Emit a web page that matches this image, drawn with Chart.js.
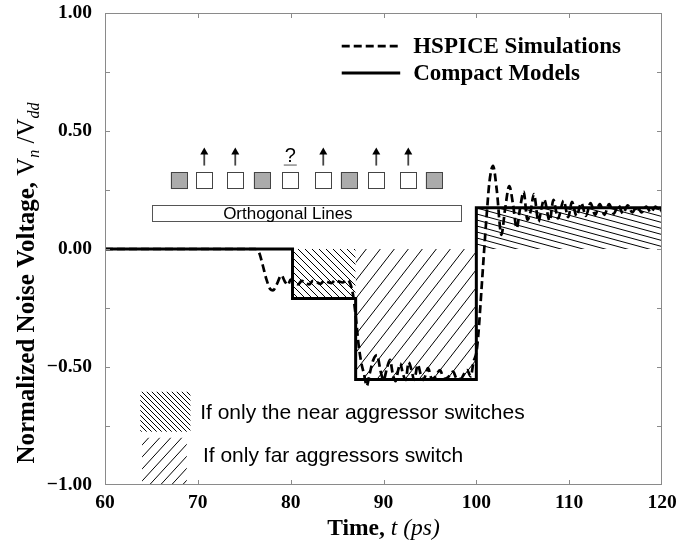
<!DOCTYPE html>
<html>
<head>
<meta charset="utf-8">
<script src="https://cdn.jsdelivr.net/npm/chart.js@4.4.0/dist/chart.umd.min.js"></script>
<style>
  html, body { margin: 0; padding: 0; background: #fff; }
  #wrap { width: 676px; height: 541px; }
</style>
</head>
<body>
<div id="wrap"><canvas id="noise-chart" width="676" height="541"></canvas></div>
<script>
// HSPICE waveform, time in ps, noise as Vn/Vdd
const hspiceTime = [
  60, 76.2, 76.6, 77.0, 77.4, 77.8, 78.1, 78.5, 79.0, 79.4, 79.7, 80.0, 80.4, 80.8, 81.2, 81.6,
  82.0, 82.4, 82.8, 83.2, 83.6, 84.0, 84.4, 84.8, 85.2, 85.6, 86.0, 86.4, 86.7, 87.0, 87.3, 87.6,
  87.9, 88.2, 88.5, 88.9, 89.3, 89.7, 90.0, 90.4, 90.7, 91.0, 91.3, 91.6, 91.8, 92.1, 92.4, 92.7,
  93.0, 93.3, 93.7, 94.0, 94.3, 94.8, 95.2, 95.5, 96.1, 96.5, 96.9, 97.5, 97.9, 98.3, 99.0, 99.4,
  99.7, 100.0, 100.2, 100.6, 100.85, 101.1, 101.4, 101.8, 102.2, 102.7, 103.1, 103.55, 103.95, 104.35,
  104.7, 105.1, 105.5, 105.85, 106.2, 106.7, 107.0, 107.3, 107.9, 108.3, 108.8, 109.4, 109.9, 110.3,
  110.8, 111.3, 111.8, 112.3, 112.8, 113.3, 113.8, 114.3, 114.8, 115.3, 115.8, 116.3, 116.8, 117.3,
  117.8, 118.3, 118.8, 119.3, 119.8, 120
];
const hspiceNoise = [
  0, 0, -0.015, -0.07, -0.13, -0.17, -0.175, -0.15, -0.112, -0.14, -0.152, -0.13, -0.14, -0.15, -0.135, -0.145,
  -0.15, -0.135, -0.14, -0.148, -0.135, -0.14, -0.145, -0.132, -0.138, -0.142, -0.132, -0.145, -0.19, -0.28, -0.40, -0.48,
  -0.53, -0.58, -0.53, -0.47, -0.45, -0.52, -0.555, -0.50, -0.47, -0.53, -0.56, -0.51, -0.485, -0.53, -0.555, -0.48,
  -0.51, -0.555, -0.49, -0.53, -0.555, -0.505, -0.55, -0.545, -0.513, -0.55, -0.545, -0.52, -0.55, -0.55, -0.513, -0.54,
  -0.477, -0.44, -0.37, -0.145, 0.0, 0.137, 0.28, 0.352, 0.25, 0.06, 0.17, 0.267, 0.19, 0.088,
  0.17, 0.243, 0.123, 0.16, 0.233, 0.116, 0.17, 0.21, 0.12, 0.208, 0.13, 0.205, 0.135, 0.2,
  0.14, 0.195, 0.14, 0.195, 0.145, 0.19, 0.145, 0.19, 0.15, 0.185, 0.15, 0.185, 0.155, 0.18,
  0.155, 0.18, 0.155, 0.18, 0.16, 0.17
];

// compact model, piecewise constant
const modelTime = [60, 80.2, 80.2, 87.0, 87.0, 100.0, 100.0, 120];
const modelNoise = [0, 0, -0.21, -0.21, -0.553, -0.553, 0.175, 0.175];

// hatched areas between zero and the model level
const nearOnlyTime = [80.2, 87.0];
const nearOnlyLevel = -0.21;
const farOnlyTime = [87.0, 100.0];
const farOnlyLevel = -0.553;
const overshootTime = [100.0, 120];
const overshootLevel = 0.175;

const xTicks = [60, 70, 80, 90, 100, 110, 120];
const yTicks = [-1, -0.5, 0, 0.5, 1];
const yMinorTicks = [-0.75, -0.25, 0.25, 0.75];

const seriesNames = ['HSPICE Simulations', 'Compact Models'];
const hatchNames = ['If only the near aggressor switches', 'If only far aggressors switch'];

// wire cross-section: shield (grey) or signal, and mark above it
const wireShield = [true, false, false, true, false, false, true, false, false, true];
const wireMark = ['', 'up', 'up', '', '?', 'up', '', 'up', 'up', ''];

const SERIF = '"Liberation Serif", "Times New Roman", serif';
const SANS = '"Liberation Sans", Arial, sans-serif';
const DASH = [8, 4];

// diagonal hatch tile, dir 'back' = "\" and 'fwd' = "/"
function makeHatch(w, h, dir, lw) {
  const c = document.createElement('canvas');
  c.width = w; c.height = h;
  const g = c.getContext('2d');
  g.strokeStyle = '#000';
  g.lineWidth = lw;
  for (let k = -1; k <= 1; k++) {
    g.beginPath();
    if (dir === 'back') {
      g.moveTo(k * w - w, -h);
      g.lineTo(k * w + 2 * w, 2 * h);
    } else {
      g.moveTo(k * w - w, 2 * h);
      g.lineTo(k * w + 2 * w, -h);
    }
    g.stroke();
  }
  return g.createPattern(c, 'repeat');
}

const nearPattern = makeHatch(7, 7, 'back', 1);
const farPattern = makeHatch(14, 18, 'fwd', 1);
const overshootPattern = makeHatch(22, 6, 'back', 1);
const nearKeyPattern = makeHatch(5, 5, 'back', 1);
const farKeyPattern = makeHatch(11, 12, 'fwd', 1);

function toPoints(xs, ys) {
  return xs.map((t, i) => ({ x: t, y: ys[i] }));
}

function band(xs, level, pattern) {
  return {
    data: xs.map(t => ({ x: t, y: level })),
    borderWidth: 0,
    pointRadius: 0,
    backgroundColor: pattern,
    fill: { value: 0 }
  };
}

// draws text made of runs with their own font and baseline shift
function drawRuns(ctx, runs, x, y, align) {
  let total = 0;
  runs.forEach(r => { ctx.font = r.font; total += ctx.measureText(r.text).width; });
  let cx = align === 'center' ? x - total / 2 : x;
  ctx.textAlign = 'left';
  ctx.textBaseline = 'alphabetic';
  runs.forEach(r => {
    ctx.font = r.font;
    ctx.fillText(r.text, cx, y + (r.dy || 0));
    cx += ctx.measureText(r.text).width;
  });
}

const frame = {
  id: 'frame',
  afterDatasetsDraw(chart) {
    const { ctx, chartArea: a, scales: { x, y } } = chart;
    ctx.save();
    ctx.strokeStyle = '#8a8a8a';
    ctx.lineWidth = 1;
    ctx.strokeRect(a.left + 0.5, a.top + 0.5, a.right - a.left - 1, a.bottom - a.top - 1);
    ctx.beginPath();
    xTicks.slice(1, -1).forEach(v => {
      const px = Math.round(x.getPixelForValue(v)) + 0.5;
      ctx.moveTo(px, a.top); ctx.lineTo(px, a.top + 5);
      ctx.moveTo(px, a.bottom); ctx.lineTo(px, a.bottom - 5);
    });
    yTicks.slice(1, -1).concat(yMinorTicks).forEach(v => {
      const py = Math.round(y.getPixelForValue(v)) + 0.5;
      ctx.moveTo(a.left, py); ctx.lineTo(a.left + 5, py);
      ctx.moveTo(a.right, py); ctx.lineTo(a.right - 5, py);
    });
    ctx.stroke();
    ctx.restore();
  }
};

const notes = {
  id: 'notes',
  afterDraw(chart) {
    const { ctx, chartArea: a, scales: { x, y } } = chart;
    ctx.save();
    ctx.fillStyle = '#000';

    // axis titles
    drawRuns(ctx, [
      { text: 'Time, ', font: 'bold 23.5px ' + SERIF },
      { text: 't (ps)', font: 'italic 23.5px ' + SERIF }
    ], (a.left + a.right) / 2, 535, 'center');

    ctx.save();
    ctx.translate(34, 283);
    ctx.rotate(-Math.PI / 2);
    drawRuns(ctx, [
      { text: 'Normalized Noise Voltage, ', font: 'bold 25px ' + SERIF },
      { text: 'V', font: '25px ' + SERIF },
      { text: 'n', font: 'italic 16px ' + SERIF, dy: 5 },
      { text: ' /V', font: '25px ' + SERIF },
      { text: 'dd', font: 'italic 16px ' + SERIF, dy: 5 }
    ], 0, 0, 'center');
    ctx.restore();

    // series key
    const kx0 = x.getPixelForValue(85.5), kx1 = x.getPixelForValue(91.8);
    const ky = [y.getPixelForValue(0.86), y.getPixelForValue(0.746)];
    ctx.strokeStyle = '#000';
    ctx.lineWidth = 2.7;
    ctx.setLineDash(DASH);
    ctx.beginPath(); ctx.moveTo(kx0, ky[0]); ctx.lineTo(kx1, ky[0]); ctx.stroke();
    ctx.setLineDash([]);
    ctx.lineWidth = 3;
    ctx.beginPath(); ctx.moveTo(kx0, ky[1]); ctx.lineTo(kx1, ky[1]); ctx.stroke();
    ctx.font = 'bold 23px ' + SERIF;
    ctx.textAlign = 'left';
    ctx.textBaseline = 'middle';
    const tx = x.getPixelForValue(93.2);
    ctx.fillText(seriesNames[0], tx, ky[0] + 1);
    ctx.fillText(seriesNames[1], tx, ky[1] + 1);

    // hatch key
    const hx0 = x.getPixelForValue(63.8), hx1 = x.getPixelForValue(69.2);
    const ny0 = y.getPixelForValue(-0.605), ny1 = y.getPixelForValue(-0.774);
    ctx.fillStyle = nearKeyPattern;
    ctx.fillRect(hx0, ny0, hx1 - hx0, ny1 - ny0);
    const fx0 = x.getPixelForValue(64.0), fx1 = x.getPixelForValue(68.8);
    const fy0 = y.getPixelForValue(-0.80), fy1 = y.getPixelForValue(-1.0);
    ctx.fillStyle = farKeyPattern;
    ctx.fillRect(fx0, fy0, fx1 - fx0, fy1 - fy0 - 1);
    ctx.fillStyle = '#000';
    ctx.font = '21px ' + SANS;
    ctx.fillText(hatchNames[0], x.getPixelForValue(70.25), y.getPixelForValue(-0.695));
    ctx.fillText(hatchNames[1], x.getPixelForValue(70.55), y.getPixelForValue(-0.877));

    // wire cross-section above the orthogonal layer
    const wy = y.getPixelForValue(0.29);
    const left = x.getPixelForValue(68.0);
    const pitch = [0, 25, 56, 83, 111, 144, 170, 197, 229, 255];
    ctx.lineWidth = 1;
    wireShield.forEach((shield, i) => {
      const cx = left + pitch[i];
      ctx.fillStyle = shield ? '#ababab' : '#fff';
      ctx.fillRect(cx - 8.5, wy - 8.5, 17, 17);
      ctx.strokeStyle = '#444';
      ctx.strokeRect(Math.round(cx - 8.5) + 0.5, Math.round(wy - 8.5) + 0.5, 16, 16);
      ctx.fillStyle = '#000';
      if (wireMark[i] === 'up') {
        ctx.lineWidth = 1.8;
        ctx.beginPath();
        ctx.moveTo(cx, wy - 15); ctx.lineTo(cx, wy - 27); ctx.stroke();
        ctx.lineWidth = 1;
        ctx.beginPath();
        ctx.moveTo(cx, wy - 33); ctx.lineTo(cx - 4, wy - 26); ctx.lineTo(cx + 4, wy - 26);
        ctx.closePath(); ctx.fill();
      } else if (wireMark[i] === '?') {
        ctx.font = '20px ' + SANS;
        ctx.textAlign = 'center';
        ctx.textBaseline = 'alphabetic';
        ctx.fillText('?', cx, wy - 19);
        ctx.strokeStyle = '#555';
        ctx.beginPath();
        ctx.moveTo(cx - 6.5, wy - 15.5); ctx.lineTo(cx + 6.5, wy - 15.5); ctx.stroke();
      }
    });

    const bx0 = x.getPixelForValue(65.06), bx1 = x.getPixelForValue(98.35);
    const by0 = y.getPixelForValue(0.186), by1 = y.getPixelForValue(0.119);
    ctx.strokeStyle = '#555';
    ctx.lineWidth = 1;
    ctx.strokeRect(Math.round(bx0) + 0.5, Math.round(by0) + 0.5, Math.round(bx1 - bx0), Math.round(by1 - by0));
    ctx.fillStyle = '#000';
    ctx.font = '17px ' + SANS;
    ctx.textAlign = 'center';
    ctx.textBaseline = 'middle';
    ctx.fillText('Orthogonal Lines', x.getPixelForValue(79.7), (by0 + by1) / 2 + 1);

    ctx.restore();
  }
};

const tickFont = { family: SERIF, size: 19.5, weight: 'bold' };

new Chart(document.getElementById('noise-chart'), {
  type: 'line',
  data: {
    datasets: [
      {
        label: seriesNames[1],
        data: toPoints(modelTime, modelNoise),
        borderColor: '#000',
        borderWidth: 3,
        pointRadius: 0,
        fill: false
      },
      {
        label: seriesNames[0],
        data: toPoints(hspiceTime, hspiceNoise),
        borderColor: '#000',
        borderWidth: 2.7,
        borderDash: DASH,
        cubicInterpolationMode: 'monotone',
        pointRadius: 0,
        fill: false
      },
      band(nearOnlyTime, nearOnlyLevel, nearPattern),
      band(farOnlyTime, farOnlyLevel, farPattern),
      band(overshootTime, overshootLevel, overshootPattern)
    ]
  },
  options: {
    responsive: false,
    animation: false,
    layout: { padding: { left: 0, right: 14, top: 13, bottom: 0 } },
    plugins: { legend: { display: false }, tooltip: { enabled: false } },
    scales: {
      x: {
        type: 'linear',
        min: 60,
        max: 120,
        afterBuildTicks: s => { s.ticks = xTicks.map(v => ({ value: v })); },
        afterFit: s => { s.height = 56; s.paddingLeft = 0; s.paddingRight = 0; },
        grid: { display: false, drawTicks: false },
        border: { display: false },
        ticks: { font: tickFont, color: '#000', padding: 6, maxRotation: 0, autoSkip: false }
      },
      y: {
        type: 'linear',
        min: -1,
        max: 1,
        afterBuildTicks: s => { s.ticks = yTicks.map(v => ({ value: v })); },
        afterFit: s => { s.width = 105; s.paddingTop = 0; s.paddingBottom = 0; },
        grid: { display: false, drawTicks: false },
        border: { display: false },
        ticks: {
          font: tickFont,
          color: '#000',
          padding: 13,
          autoSkip: false,
          callback: v => (v < 0 ? '\u2212' : '') + Math.abs(v).toFixed(2)
        }
      }
    }
  },
  plugins: [frame, notes]
});
</script>
</body>
</html>
